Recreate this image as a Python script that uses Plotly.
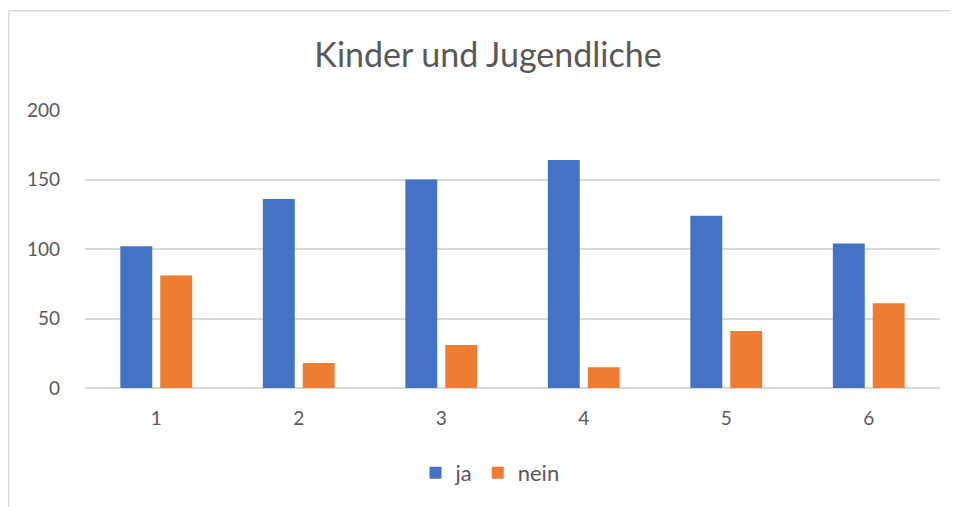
import plotly.graph_objects as go

categories = ['1', '2', '3', '4', '5', '6']
ja = [102, 136, 150, 164, 124, 104]
nein = [81, 18, 31, 15, 41, 61]

W, H = 958, 507
OFF = 8  # page body margin pushes the figure 8px right/down
# wanted plot area on screen: x 85..940, y 110..388
L, R, T, B = 85 - OFF, W - (940 - OFF), 110 - OFF, H - (388 - OFF)

def px2paper(x=None, y=None):
  # screen pixels -> paper coords of the plot area
  pw, ph = W - L - R, H - T - B
  if x is not None:
    return (x - OFF - L) / pw
  return (H - B - (y - OFF)) / ph

grey = '#595959'
font = 'Lato, Calibri, sans-serif'

fig = go.Figure()
fig.add_trace(go.Bar(x=categories, y=ja, name='ja', marker=dict(color='#4472C4', line=dict(width=0))))
fig.add_trace(go.Bar(x=categories, y=nein, name='nein', marker=dict(color='#ED7D31', line=dict(width=0))))

fig.update_layout(
  width=W, height=H,
  margin=dict(l=L, r=R, t=T, b=B),
  paper_bgcolor='white', plot_bgcolor='white',
  barmode='group', bargap=0.44, bargroupgap=0.2,
  font=dict(family=font, color=grey, size=19),
  title=dict(text='Kinder und Jugendliche', x=(488 - OFF) / W, xanchor='center',
             y=1 - (55 - OFF) / H, yanchor='middle', yref='container',
             font=dict(family=font, size=34, color=grey)),
  legend=dict(orientation='h', x=px2paper(x=490), xanchor='center',
              y=px2paper(y=473), yanchor='middle',
              font=dict(family=font, size=22, color=grey),
              itemwidth=30, tracegroupgap=0),
)
fig.update_yaxes(range=[0, 200], dtick=50, showgrid=True, gridcolor='#d9d9d9', gridwidth=1.5,
                 zeroline=True, zerolinecolor='#d9d9d9', zerolinewidth=1.5,
                 showline=False, ticks='', ticklabelstandoff=24,
                 tickfont=dict(family=font, size=19, color=grey))
fig.update_xaxes(showgrid=False, showline=False, ticks='', ticklabelstandoff=17,
                 tickfont=dict(family=font, size=19, color=grey))

# outer chart frame (only top and left edges are visible in the crop)
border = dict(color='#d9d9d9', width=1.5)
fig.add_shape(type='line', xref='paper', yref='paper', x0=px2paper(x=8.7), x1=px2paper(x=8.7),
              y0=px2paper(y=H + 20), y1=px2paper(y=10.7), line=border)
fig.add_shape(type='line', xref='paper', yref='paper', x0=px2paper(x=8.7), x1=px2paper(x=W + 20),
              y0=px2paper(y=10.7), y1=px2paper(y=10.7), line=border)

fig.write_html('out.html')
